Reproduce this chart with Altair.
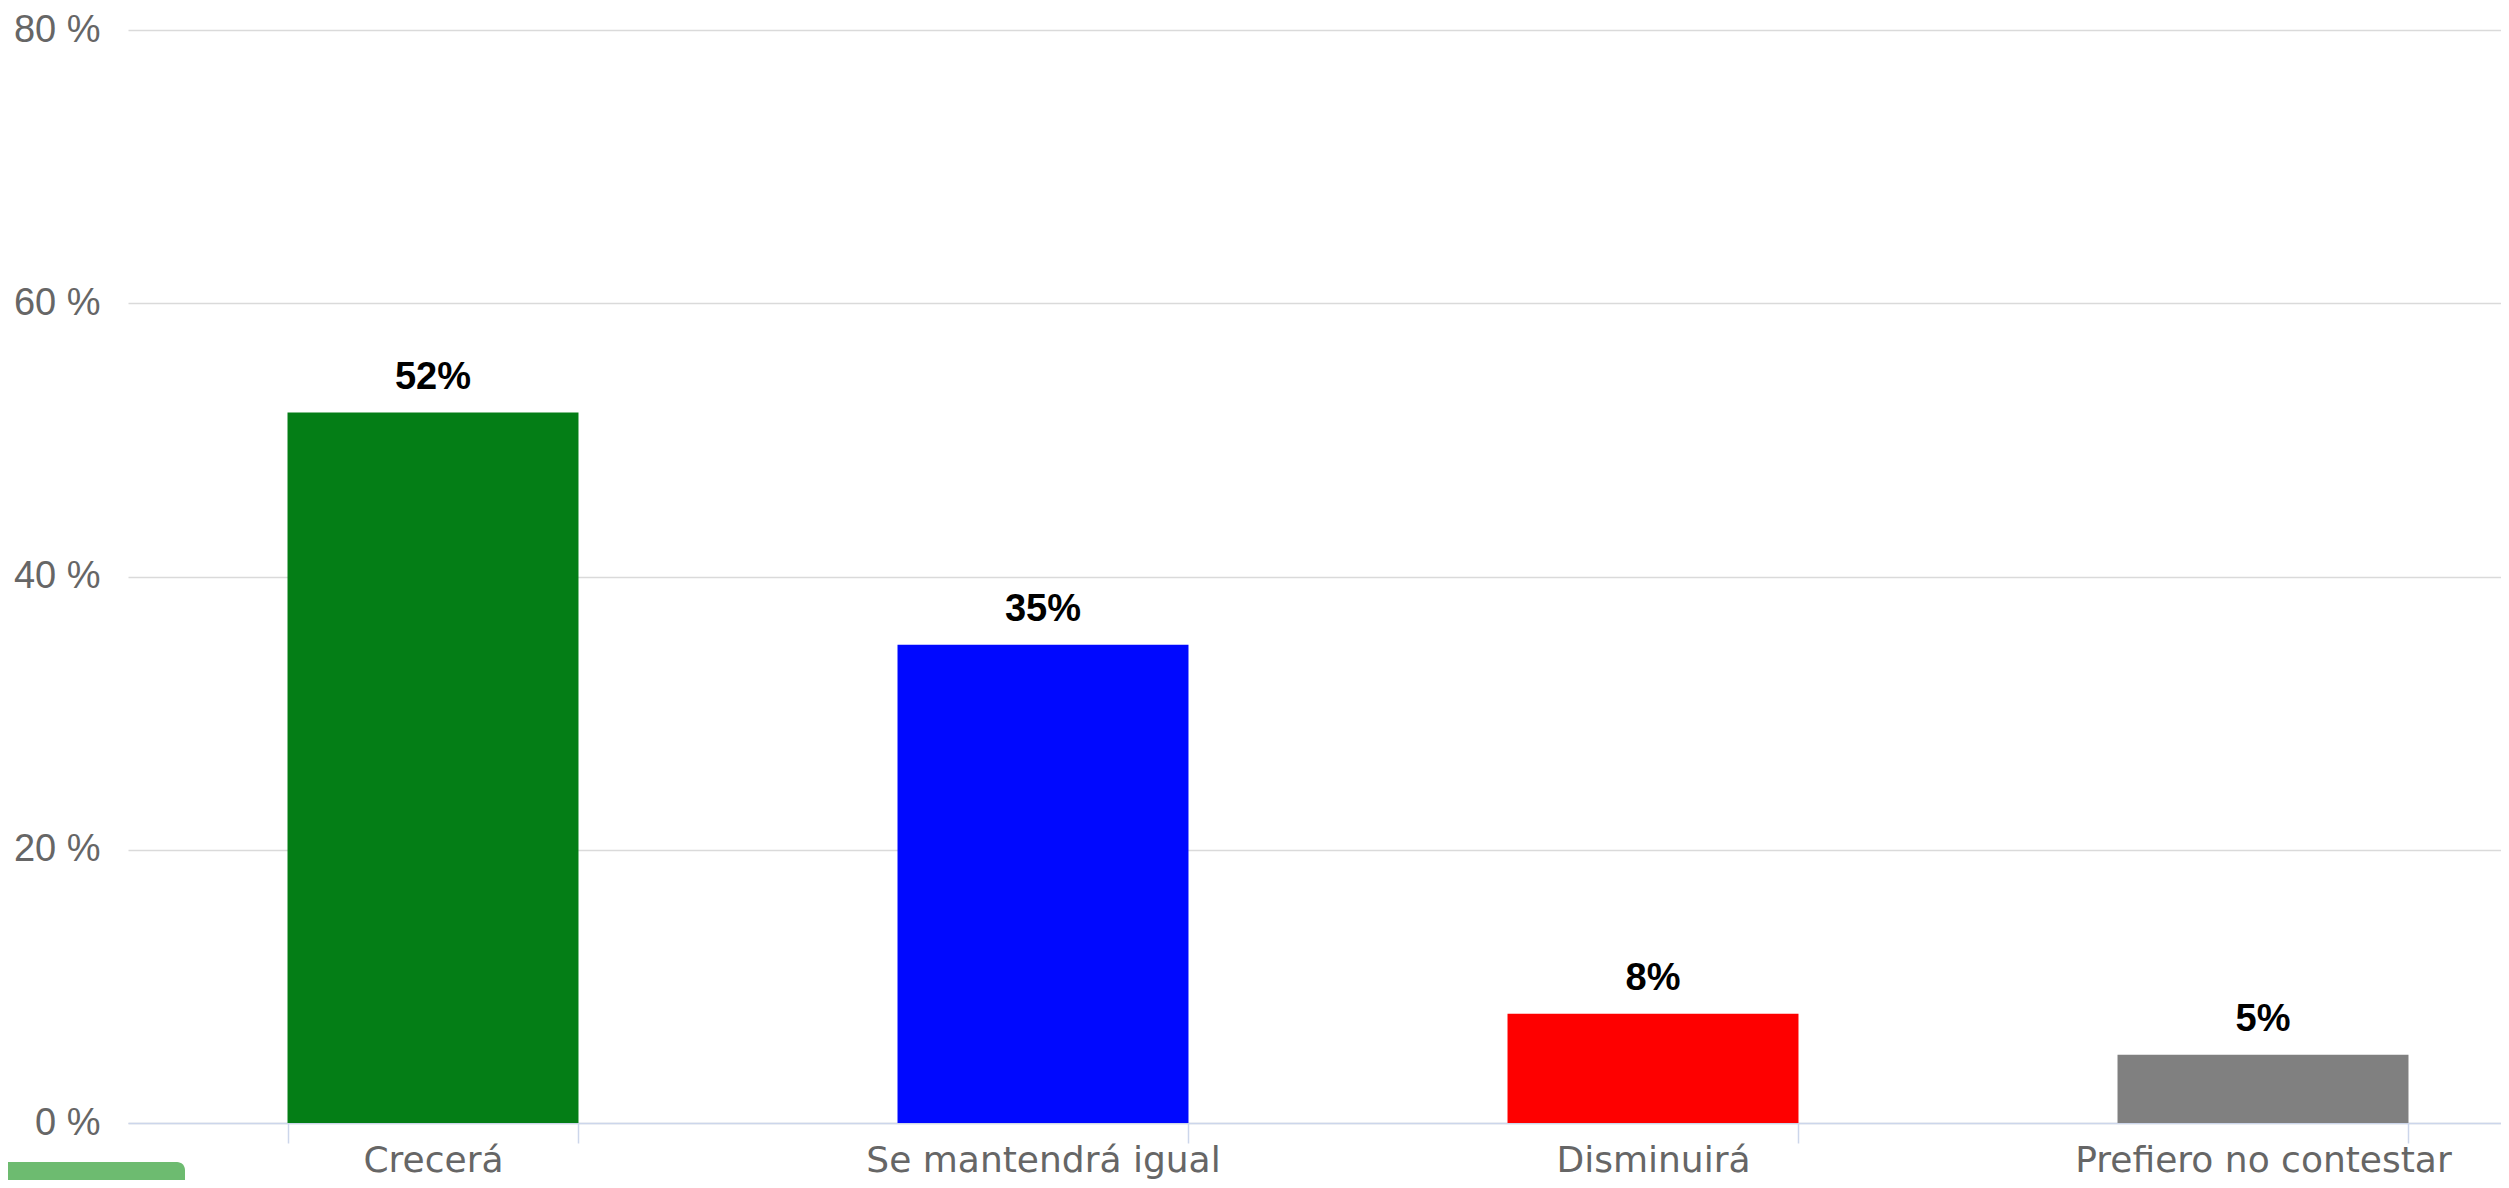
import altair as alt
import pandas as pd

categories = ["Crecerá", "Se mantendrá igual", "Disminuirá", "Prefiero no contestar"]
values = [52, 35, 8, 5]
labels = ["52%", "35%", "8%", "5%"]
colors = ["#047e16", "#0008ff", "#fe0000", "#808080"]
y_ticks = [0, 20, 40, 60, 80]
watermark = ["dalessio.com.ar"]

df = pd.DataFrame({"cat": categories, "val": values, "label": labels})

x = alt.X(
    "cat:N",
    sort=categories,
    title=None,
    scale=alt.Scale(range=[0, 2440], paddingInner=0.523, paddingOuter=0.2615),
    axis=alt.Axis(
        labelAngle=0,
        tickBand="extent",
        tickSize=20,
        tickColor="#ccd6eb",
        tickWidth=1.5,
        domainColor="#ccd6eb",
        domainWidth=1.5,
        labelFont="DejaVu Sans",
        labelFontSize=36,
        labelColor="#666666",
        labelPadding=0,
        labelLimit=800,
        grid=False,
    ),
)
y = alt.Y(
    "val:Q",
    title=None,
    scale=alt.Scale(domain=[0, 80]),
    axis=alt.Axis(
        values=y_ticks,
        labelExpr="datum.value + ' %'",
        domain=False,
        ticks=False,
        gridColor="#dadada",
        gridWidth=1.5,
        labelFont="Liberation Sans",
        labelFontSize=38,
        labelColor="#666666",
        labelPadding=28,
    ),
)

base = alt.Chart(df)
bars = base.mark_bar().encode(
    x=x,
    y=y,
    color=alt.Color("cat:N", scale=alt.Scale(domain=categories, range=colors), legend=None),
)
text = base.mark_text(
    font="Liberation Sans",
    fontWeight="bold",
    fontSize=38,
    baseline="alphabetic",
    dy=-24,
    color="#000000",
).encode(x=alt.X("cat:N", sort=categories), y="val:Q", text="label:N")

wm = alt.Chart(pd.DataFrame({"t": watermark})).mark_rect(
    color="#6dbb70", cornerRadius=8
).encode(
    x=alt.value(-140), x2=alt.value(57), y=alt.value(1132), y2=alt.value(1180)
)

chart = (
    alt.layer(bars, text, wm)
    .properties(
        width=2373,
        height=1093,
        autosize=alt.AutoSizeParams(type="none"),
        padding={"left": 120, "top": 22, "right": 0, "bottom": 57},
        background="white",
    )
    .configure_view(stroke=None)
)

chart.save("out.html", embed_options={"renderer": "svg", "actions": False})
